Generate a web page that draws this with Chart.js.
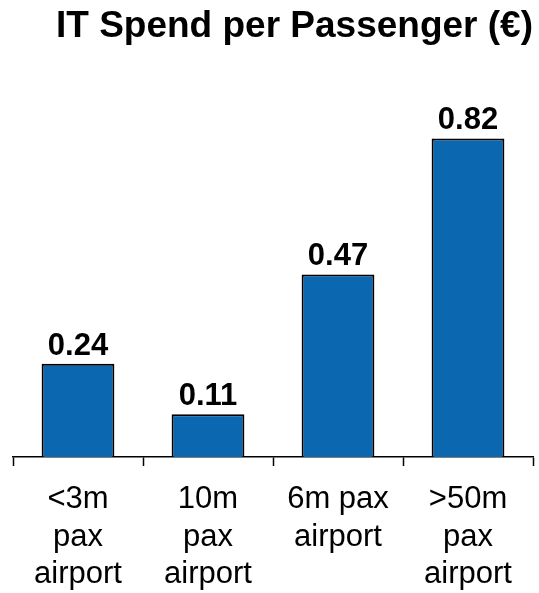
<!DOCTYPE html>
<html>
<head>
<meta charset="utf-8">
<script src="https://cdn.jsdelivr.net/npm/chart.js@4"></script>
<style>
  html, body { margin: 0; padding: 0; background: #fff; }
  #wrap { width: 539px; height: 593px; }
</style>
</head>
<body>
<div id="wrap"><canvas id="itChart"></canvas></div>
<script>
// Categorías (etiquetas en varias líneas) y valores
const categorias = [
  ['<3m', 'pax', 'airport'],
  ['10m', 'pax', 'airport'],
  ['6m pax', 'airport'],
  ['>50m', 'pax', 'airport']
];
const gastoPorPasajero = [0.24, 0.11, 0.47, 0.82];

const fuente = '"Liberation Sans", Arial, sans-serif';

// Dibuja el valor encima de cada barra
const etiquetasValor = {
  id: 'etiquetasValor',
  afterDatasetsDraw(chart) {
    const ctx = chart.ctx;
    const meta = chart.getDatasetMeta(0);
    ctx.save();
    ctx.font = 'bold 31px ' + fuente;
    ctx.fillStyle = '#000';
    ctx.textAlign = 'center';
    ctx.textBaseline = 'alphabetic';
    meta.data.forEach((bar, i) => {
      ctx.fillText(gastoPorPasajero[i].toFixed(2), bar.x, bar.y - 9);
    });
    ctx.restore();
  }
};

const ctx = document.getElementById('itChart').getContext('2d');
const grafico = new Chart(ctx, {
  type: 'bar',
  data: {
    labels: categorias,
    datasets: [{
      data: gastoPorPasajero,
      backgroundColor: '#0a67b0',
      borderColor: '#000',
      borderWidth: 2,
      borderSkipped: 'bottom',
      barPercentage: 0.56,
      categoryPercentage: 1
    }]
  },
  options: {
    responsive: true,
    maintainAspectRatio: false,
    animation: false,
    layout: { padding: { left: 13, right: 6, bottom: 0 } },
    plugins: {
      legend: { display: false },
      tooltip: { enabled: false },
      title: {
        display: true,
        text: 'IT Spend per Passenger (€)',
        align: 'end',
        color: '#000',
        font: { family: fuente, size: 37, weight: 'bold', lineHeight: 1.2 },
        padding: { top: 5, bottom: 58 }
      }
    },
    scales: {
      x: {
        // alto fijo del eje para que la línea base quede donde toca
        afterFit(scale) { scale.height = 136; },
        grid: {
          display: true,
          drawOnChartArea: false,
          drawTicks: true,
          tickLength: 9,
          tickWidth: 1.5,
          tickColor: '#000',
          offset: true
        },
        border: { display: true, color: '#000', width: 1.5 },
        ticks: {
          color: '#000',
          padding: 15,
          maxRotation: 0,
          autoSkip: false,
          font: { family: fuente, size: 31, lineHeight: 1.21 }
        }
      },
      y: {
        display: false,
        min: 0,
        max: 0.9
      }
    }
  },
  plugins: [etiquetasValor]
});
</script>
</body>
</html>
